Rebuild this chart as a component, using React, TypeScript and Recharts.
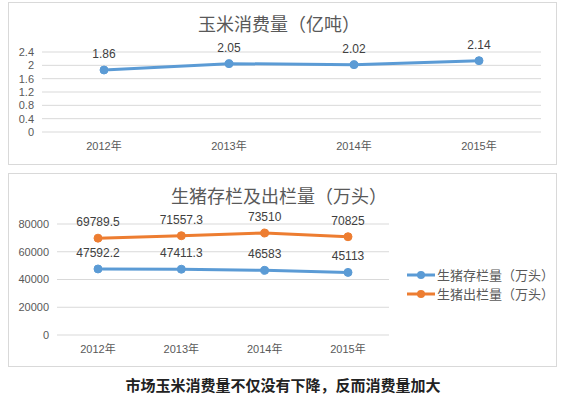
import React from "react";
import { LineChart, Line, XAxis, YAxis, CartesianGrid, LabelList } from "recharts";

const years = ["2012年", "2013年", "2014年", "2015年"];
const cornConsumption = [1.86, 2.05, 2.02, 2.14];
const hogInventory = [47592.2, 47411.3, 46583, 45113];
const hogSlaughter = [69789.5, 71557.3, 73510, 70825];
const cornTicks = [0, 0.4, 0.8, 1.2, 1.6, 2, 2.4];
const hogTicks = [0, 20000, 40000, 60000, 80000];

const cornData = years.map((y, i) => ({ year: y, corn: cornConsumption[i] }));
const hogData = years.map((y, i) => ({ year: y, inv: hogInventory[i], out: hogSlaughter[i] }));

const BLUE = "#5b9bd5";
const ORANGE = "#ed7d31";
const FONT = "'Liberation Sans', 'Noto Sans CJK SC', sans-serif";
const tickStyle = { fill: "#595959", fontSize: 11, fontFamily: FONT };
const labelStyle = { fill: "#404040", fontSize: 12, fontFamily: FONT };

const panel: React.CSSProperties = {
  position: "absolute",
  left: 8,
  width: 547,
  border: "1px solid #d9d9d9",
  background: "#fff",
};
const titleStyle: React.CSSProperties = {
  position: "absolute",
  left: 0,
  width: 540,
  textAlign: "center",
  fontSize: 18,
  color: "#595959",
  fontFamily: "'Noto Sans CJK SC', sans-serif",
  lineHeight: "24px",
};

const legendItems = [
  { name: "生猪存栏量（万头）", color: BLUE },
  { name: "生猪出栏量（万头）", color: ORANGE },
];

function HogLegend() {
  return (
    <div style={{ position: "absolute", left: 397, top: 91, fontFamily: "'Noto Sans CJK SC', sans-serif" }}>
      {legendItems.map((it) => (
        <div key={it.name} style={{ display: "flex", alignItems: "center", height: 19 }}>
          <svg width={30} height={12}>
            <line x1={1} y1={6} x2={29} y2={6} stroke={it.color} strokeWidth={3} />
            <circle cx={15} cy={6} r={4} fill={it.color} />
          </svg>
          <span style={{ fontSize: 13, color: "#595959", marginLeft: 1, lineHeight: "19px" }}>{it.name}</span>
        </div>
      ))}
    </div>
  );
}

export default function App() {
  return (
    <div style={{ position: "fixed", left: 0, top: 0, width: 570, height: 399, background: "#fff", overflow: "hidden" }}>
      <div style={{ ...panel, top: 2, height: 161 }}>
        <div style={{ ...titleStyle, top: 8 }}>玉米消费量（亿吨）</div>
        <LineChart width={547} height={161} data={cornData} margin={{ top: 49, right: 15, bottom: 2, left: 0 }}>
          <CartesianGrid vertical={false} stroke="#d9d9d9" />
          <XAxis dataKey="year" axisLine={false} tickLine={false} tick={tickStyle} height={30} padding={{ left: 62, right: 62 }} tickMargin={4} />
          <YAxis domain={[0, 2.4]} ticks={cornTicks} axisLine={false} tickLine={false} tick={tickStyle} width={33} interval={0} />
          <Line dataKey="corn" stroke={BLUE} strokeWidth={3} dot={{ r: 4, fill: BLUE, stroke: BLUE, strokeWidth: 1 }} isAnimationActive={false}>
            <LabelList dataKey="corn" position="top" offset={12} style={labelStyle} />
          </Line>
        </LineChart>
      </div>
      <div style={{ ...panel, top: 173, height: 192 }}>
        <div style={{ ...titleStyle, top: 9 }}>生猪存栏及出栏量（万头）</div>
        <LineChart width={547} height={192} data={hogData} margin={{ top: 50, right: 167, bottom: 1, left: 0 }}>
          <CartesianGrid vertical={false} stroke="#d9d9d9" />
          <XAxis dataKey="year" axisLine={false} tickLine={false} tick={tickStyle} height={30} padding={{ left: 41, right: 41 }} tickMargin={4} />
          <YAxis domain={[0, 80000]} ticks={hogTicks} axisLine={false} tickLine={false} tick={tickStyle} width={48} interval={0} />
          <Line dataKey="inv" name="生猪存栏量（万头）" stroke={BLUE} strokeWidth={3} dot={{ r: 4, fill: BLUE, stroke: BLUE, strokeWidth: 1 }} isAnimationActive={false}>
            <LabelList dataKey="inv" position="top" offset={12} style={labelStyle} />
          </Line>
          <Line dataKey="out" name="生猪出栏量（万头）" stroke={ORANGE} strokeWidth={3} dot={{ r: 4, fill: ORANGE, stroke: ORANGE, strokeWidth: 1 }} isAnimationActive={false}>
            <LabelList dataKey="out" position="top" offset={12} style={labelStyle} />
          </Line>
        </LineChart>
        <HogLegend />
      </div>
      <div
        style={{
          position: "absolute",
          left: 0,
          top: 375,
          width: 566,
          textAlign: "center",
          fontSize: 15,
          fontWeight: "bold",
          color: "#222",
          fontFamily: "'Noto Sans CJK SC', sans-serif",
          lineHeight: "20px",
        }}
      >
        市场玉米消费量不仅没有下降，反而消费量加大
      </div>
    </div>
  );
}
